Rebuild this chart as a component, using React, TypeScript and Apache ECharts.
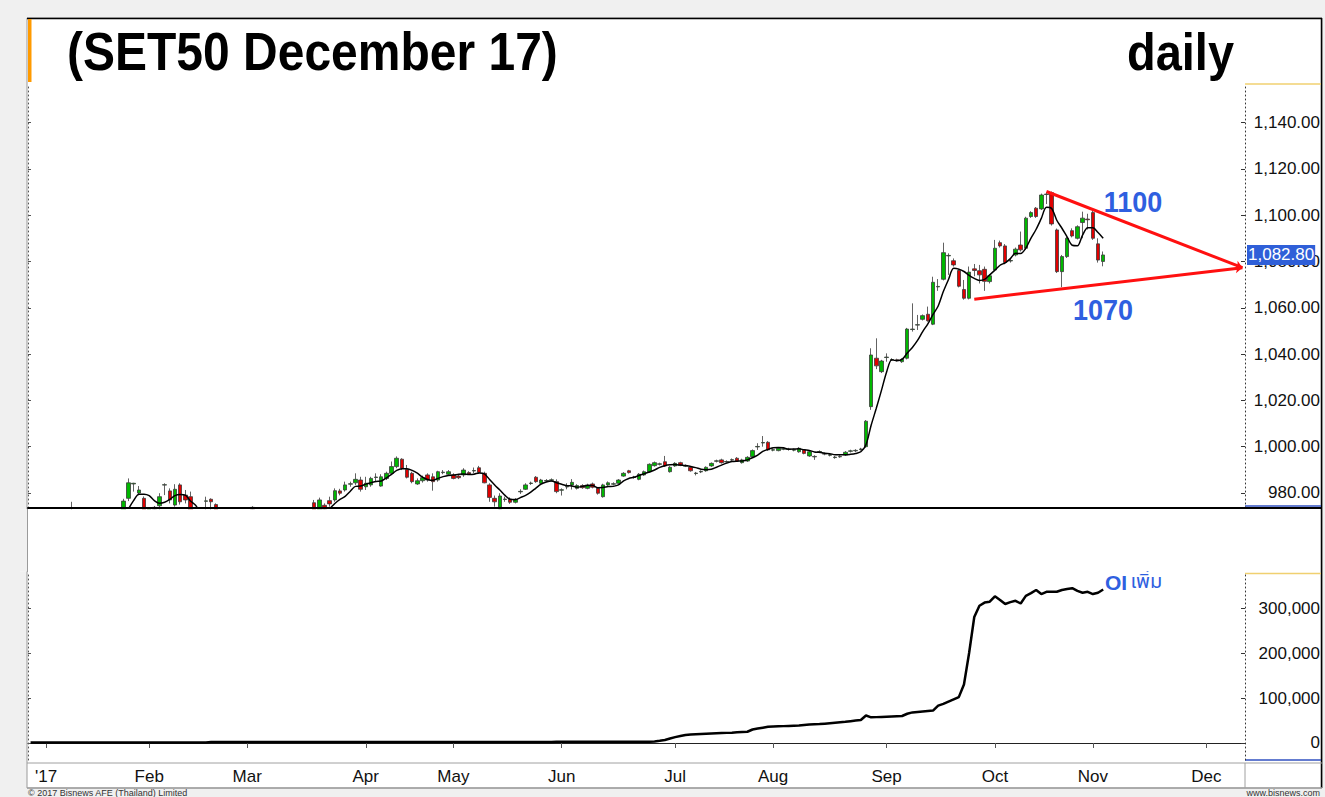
import React, { useEffect, useRef } from "react";
import * as echarts from "echarts";

const FONT = "'Liberation Sans', Arial, Helvetica, sans-serif";

// ---- trading-day categories ----
const DEC16_DAYS = [28, 29, 30];
const JAN_DAYS = [4, 5, 6, 9, 10, 11, 12, 13, 16, 17, 18, 19, 20, 23, 24, 25, 26, 27, 30, 31];
const FEB_DAYS = [1, 2, 3, 6, 7, 8, 9, 10, 14, 15, 16, 17, 20, 21, 22, 23, 24, 27, 28];
const MAR_DAYS = [1, 2, 3, 6, 7, 8, 9, 10, 13, 14, 15, 16, 17, 20, 21, 22, 23, 24, 27, 28, 29, 30, 31];
const APR_DAYS = [3, 4, 5, 7, 10, 11, 12, 17, 18, 19, 20, 21, 24, 25, 26, 27, 28];
const MAY_DAYS = [2, 3, 4, 5, 8, 9, 11, 12, 15, 16, 17, 18, 19, 22, 23, 24, 25, 26, 29, 30, 31];
const JUN_DAYS = [1, 2, 5, 6, 7, 8, 9, 12, 13, 14, 15, 16, 19, 20, 21, 22, 23, 26, 27, 28, 29, 30];
const JUL_DAYS = [3, 4, 5, 6, 7, 11, 12, 13, 14, 17, 18, 19, 20, 21, 24, 25, 26, 27, 31];
const AUG_DAYS = [1, 2, 3, 4, 7, 8, 9, 10, 11, 15, 16, 17, 18, 21, 22, 23, 24, 25, 28, 29, 30, 31];
const SEP_DAYS = [1, 4, 5, 6, 7, 8, 11, 12, 13, 14, 15, 18, 19, 20, 21, 22, 25, 26, 27, 28, 29];
const OCT_DAYS = [2, 3, 4, 5, 6, 9, 10, 11, 12, 16, 17, 18, 19, 20, 24, 25, 27, 30, 31];
const NOV_DAYS = [1, 2, 3, 6, 7, 8, 9, 10, 13, 14, 15, 16, 17, 20, 21, 22, 23, 24, 27, 28, 29, 30];
const DEC_DAYS = [1, 4, 6, 7, 8, 12, 13, 14];
const MONTH_LABELS = ["'17", "Feb", "Mar", "Apr", "May", "Jun", "Jul", "Aug", "Sep", "Oct", "Nov", "Dec"];

// ---- OHLC values [open, close, low, high] ----
const OHLC_DEC16 = [[962, 964, 960, 966], [964, 961, 959, 965], [961, 965, 960, 967]];
const OHLC_JAN = [
  [965, 968, 963, 970], [968, 966, 964, 970], [966, 969, 965, 971], [969, 967, 964, 970],
  [967, 970, 966, 972], [970, 971, 967, 976.2], [971, 968, 966, 972], [968, 965, 963, 969],
  [965, 962, 960, 966], [962, 964, 960, 966], [964, 961, 958, 965], [961, 963, 959, 965],
  [963, 966, 962, 968], [966, 968, 964, 970], [968, 971, 967, 972.5], [971, 976.5, 970, 977.5],
  [977.7, 984.4, 976.5, 986.3], [983.9, 984.2, 980.6, 984.4], [980, 981.3, 979, 983], [977.7, 971, 969, 978.5],
];
const OHLC_FEB = [
  [972, 973.2, 970, 973.9], [973, 973.8, 971, 974.4], [974.5, 978.4, 972, 979.9], [983.4, 983.6, 979.1, 984.2],
  [980.9, 977, 975.5, 982], [974.8, 981.6, 974.1, 983.8], [983.5, 976.2, 975, 984.2], [979.1, 977, 975.5, 981.3],
  [978.4, 971, 969, 980.6], [970, 968, 966, 972], [968, 966, 964, 970], [976.4, 976.6, 972, 978.4],
  [977.3, 976.2, 972.5, 977.7], [975, 971, 969, 975.5], [971, 969, 967, 972], [969, 967, 965, 971],
  [967, 965, 963, 969], [965, 966, 962, 968], [966, 964, 962, 968],
];
const OHLC_MAR = [
  [964, 967, 963, 969], [973.8, 973, 970, 974.3], [970, 968, 966, 971], [968, 966, 964, 970],
  [966, 964, 962, 967], [964, 962, 960, 966], [962, 963, 959, 965], [963, 961, 959, 965],
  [961, 963, 960, 965], [963, 965, 961, 967], [965, 967, 964, 969], [967, 968, 965, 970],
  [968, 970, 966, 972], [975.8, 971, 969, 977], [971, 977, 970, 978], [974.7, 973, 971, 975.5],
  [976.7, 975.3, 974.1, 978.4], [977, 981, 976.2, 982], [980.9, 979.9, 979, 981.8], [981.3, 983.5, 980.6, 984.9],
  [983.8, 984, 982.7, 984.9], [984.4, 985.9, 983.5, 988.5], [985.6, 981.6, 980.6, 987],
];
const OHLC_APR = [
  [982.7, 984.2, 981.3, 987], [983.5, 986.3, 982.7, 987], [986.7, 986.9, 984.9, 988.5], [983, 987, 982.7, 988.1],
  [986.3, 988.5, 985.6, 989.2], [988.5, 991.4, 987.8, 993.6], [991.4, 995, 990.7, 995.8], [994.6, 990.7, 989.9, 995],
  [990.2, 986.8, 986.3, 992.1], [988.5, 984.9, 984.2, 989.2], [983.9, 985.3, 983.5, 986.3], [985.3, 986.6, 984.5, 987.5],
  [987.8, 985.6, 984.9, 988.5], [987, 984.9, 981, 988.5], [985.6, 989.2, 984.9, 989.6], [988.8, 989, 988.1, 989.9],
  [988.1, 989.2, 987.8, 989.9],
];
const OHLC_MAY = [
  [987.8, 986.3, 985.9, 988.5], [987.3, 986.6, 986, 988], [987.8, 989.9, 987, 990.7], [988.8, 988.2, 987.8, 989.4],
  [989.5, 989.7, 988.5, 991], [990.9, 988.9, 988.5, 991.7], [988.5, 984.4, 984.2, 989.2], [983.5, 978.1, 976.2, 984.2],
  [977.7, 976.2, 974.1, 978.9], [973, 978.7, 972, 979.9], [977.2, 977.4, 976.2, 978.4], [977.3, 976, 975.3, 978.1],
  [976, 977.3, 975.5, 977.8], [980.5, 980.7, 979.6, 981.6], [981.6, 983.5, 981.3, 984.2], [984.1, 984.3, 983.5, 984.9],
  [986.8, 984.9, 984.4, 987.3], [984.2, 985.6, 983.8, 986.1], [985.2, 985.4, 984.7, 986], [985.5, 985.7, 985, 986.3],
  [984.9, 980.6, 979.9, 985.9],
];
const OHLC_JUN = [
  [981.2, 981.4, 978.9, 982], [982.6, 982.8, 981.6, 984.2], [983.5, 984.6, 981.5, 986], [982, 983.2, 981.5, 983.8],
  [983.2, 982.3, 981.8, 983.8], [982, 983.5, 981.6, 984], [983.9, 982.5, 982, 984.5], [982, 979.9, 979.3, 982.5],
  [978.4, 983.5, 978, 984], [983.5, 984.4, 983, 985], [983.8, 984, 983.3, 984.6], [984.2, 985.6, 983.9, 986],
  [987.3, 988.5, 987, 989], [989.6, 988.8, 988.4, 990], [986.7, 986.9, 986.2, 987.4], [985.9, 988.1, 985.5, 988.6],
  [987.8, 989.2, 987.4, 989.7], [989.2, 992.4, 988.8, 992.8], [991.8, 993.1, 991.4, 993.6], [992.4, 992.6, 991.9, 993.1],
  [993.5, 991.7, 991.3, 996], [989.2, 991.1, 988.8, 991.6],
];
const OHLC_JUL = [
  [991.7, 992.8, 991.3, 993.3], [993.1, 992, 991.6, 993.5], [991.6, 991.8, 991.2, 992.3], [991.1, 989.6, 989.2, 991.5],
  [988.4, 988.6, 987.6, 989.1], [989.1, 989.3, 988.6, 989.8], [989.6, 991.1, 989.2, 991.5], [991.7, 992.8, 991.3, 993.2],
  [993.7, 993.9, 993.2, 994.4], [994.3, 993.1, 992.7, 994.8], [993.4, 993.6, 993, 994.1], [994.2, 994.4, 993.8, 994.9],
  [995, 993.8, 993.4, 995.5], [993.1, 994.3, 992.7, 994.8], [993.8, 995.4, 993.4, 995.9], [995.7, 998.3, 995.3, 998.8],
  [999.9, 1000.1, 998.6, 1001.5], [1001.6, 1001.8, 1000, 1004.6], [1001.9, 998.6, 998.2, 1002.4],
];
const OHLC_AUG = [
  [998.5, 998.7, 998, 999.3], [998.3, 999.3, 998, 999.8], [998.9, 999.1, 998.5, 999.6], [998.8, 999, 998.3, 999.5],
  [998.5, 998.7, 998, 999.2], [997.8, 999.3, 997.4, 999.8], [998.6, 997.1, 996.7, 999], [996, 997.8, 995.6, 998.3],
  [995.6, 995.8, 994.3, 996.3], [997.7, 997.9, 997.2, 998.4], [996.8, 997, 996.3, 997.5], [996.3, 996.5, 995.8, 997],
  [995.3, 995.5, 994.8, 996], [995.6, 995.8, 995.2, 996.3], [996.4, 997.6, 996, 998.1], [998, 998.2, 997.5, 998.7],
  [998.2, 998.4, 997.7, 998.9], [998.8, 999, 998.3, 999.5], [1000, 1011, 999.5, 1011.5], [1017.3, 1039.6, 1015.9, 1042.5],
  [1038.2, 1034.9, 1033.5, 1046.8], [1032.4, 1037, 1031.8, 1037.5],
];
const OHLC_SEP = [
  [1038.5, 1038.7, 1036.7, 1040.3], [1037.4, 1037.6, 1037, 1038.2], [1037.5, 1037.4, 1036.8, 1038], [1036.7, 1037.7, 1036.2, 1038.2],
  [1038.2, 1050.8, 1037.7, 1051.3], [1050.6, 1050.8, 1049.7, 1061.9], [1052.5, 1052.7, 1050.4, 1056.9], [1055, 1056.6, 1054.5, 1057.1],
  [1057.2, 1054.4, 1054, 1060.5], [1052.9, 1071, 1052.5, 1073.4], [1069, 1069.2, 1067.3, 1072.4], [1072.3, 1083.8, 1071.8, 1088.1],
  [1082.4, 1082.6, 1074.2, 1083.5], [1080.3, 1078.5, 1077.8, 1081.3], [1076.1, 1069.3, 1068.8, 1076.8], [1067.9, 1064.1, 1063.5, 1072],
  [1064.1, 1075.4, 1063.6, 1077.8], [1076.8, 1076.1, 1073.6, 1078.9], [1076, 1074.2, 1070.5, 1078.5], [1076.6, 1071.4, 1067.3, 1077.8],
  [1071.3, 1073.8, 1070.5, 1074.5],
];
const OHLC_OCT = [
  [1076.3, 1085.7, 1075.8, 1089.3], [1088.1, 1086.7, 1086, 1089], [1086.7, 1079.5, 1078.8, 1087.5], [1080.2, 1080.4, 1079.5, 1081.2],
  [1082.8, 1085.3, 1082.2, 1086], [1087.1, 1085, 1084.3, 1092.9], [1085.7, 1098.7, 1085, 1099.3], [1099.4, 1101.1, 1098.8, 1101.7],
  [1103, 1099.4, 1098.8, 1103.5], [1102.7, 1108.7, 1102.2, 1109.3], [1108.9, 1109.1, 1104.8, 1110], [1109.7, 1096.2, 1095.5, 1110.2],
  [1093.6, 1075.6, 1075, 1094.2], [1075.6, 1082.1, 1068.9, 1082.8], [1082.1, 1090, 1081.5, 1090.6], [1093.3, 1091, 1090.4, 1094.3],
  [1090, 1095, 1089.5, 1095.6], [1096.8, 1098.7, 1090, 1101.5], [1098.3, 1098, 1093.8, 1100.6],
];
const OHLC_NOV = [[1101.1, 1090, 1089.3, 1102.2], [1087.6, 1080.6, 1079.5, 1090], [1080, 1082.8, 1077.9, 1084.3]];

// ---- open interest ----
const OI_DEC16 = [1000, 1000, 1000];
const OI_JAN = [1000, 1000, 1000, 1000, 1000, 1000, 1000, 1000, 1000, 1000, 1000, 1000, 1000, 1000, 1000, 1000, 1000, 1000, 1000, 1000];
const OI_FEB = [1000, 1000, 1000, 1000, 1000, 1000, 1000, 1000, 1000, 1000, 1000, 1000, 2000, 2000, 2000, 2000, 2000, 2000, 2000];
const OI_MAR = [2000, 2000, 2000, 2000, 2000, 2000, 2000, 2000, 2000, 2000, 2000, 2000, 2000, 2000, 2000, 2000, 2000, 2000, 2000, 2000, 2000, 2000, 2000];
const OI_APR = [2000, 2000, 2000, 2000, 2000, 2000, 2000, 2000, 2000, 2000, 2000, 2000, 2000, 2000, 2000, 2000, 2000];
const OI_MAY = [2000, 2000, 2000, 2000, 2000, 2000, 2000, 2000, 2000, 2000, 2000, 2000, 2000, 2000, 2000, 2000, 2000, 2000, 2000, 2000, 3000];
const OI_JUN = [3000, 3000, 3000, 3000, 3000, 3000, 3000, 3000, 3000, 3000, 3000, 3000, 3000, 3000, 3000, 3000, 3000, 3000, 3500, 5000, 6700, 10000];
const OI_JUL = [13000, 15500, 17800, 18800, 19500, 20000, 20500, 21000, 21500, 22000, 22500, 23000, 23800, 24500, 25000, 30000, 32000, 34000, 36000];
const OI_AUG = [36500, 37000, 37500, 38000, 38500, 39000, 40000, 41000, 41500, 42000, 43000, 44000, 45000, 46000, 47000, 48500, 50000, 51000, 61000, 57000, 57500, 58000];
const OI_SEP = [58500, 59000, 59500, 60000, 65000, 68000, 69000, 70000, 71000, 72000, 83000, 87000, 92000, 97000, 102000, 130000, 200000, 280000, 305000, 312000, 314000];
const OI_OCT = [326000, 318000, 309000, 313000, 316000, 310000, 327000, 333000, 340000, 331000, 336000, 336000, 336000, 340000, 342000, 344000, 338000, 334000, 336000];
const OI_NOV = [331000, 334000, 341000];

const PRICE_TICKS = [980, 1000, 1020, 1040, 1060, 1080, 1100, 1120, 1140];
const OI_TICKS = [0, 100000, 200000, 300000];
const LAST_PRICE = 1082.8;
const UPPER_TREND = [[197, 1110.2], [235, 1077.3]];
const LOWER_TREND = [[183, 1063.7], [235, 1077.3]];

const pad = (n: number) => (n < 10 ? "0" + n : "" + n);

function buildOption() {
  const dates: string[] = [];
  DEC16_DAYS.forEach((d) => dates.push(`2016-12-${pad(d)}`));
  [JAN_DAYS, FEB_DAYS, MAR_DAYS, APR_DAYS, MAY_DAYS, JUN_DAYS, JUL_DAYS, AUG_DAYS, SEP_DAYS, OCT_DAYS, NOV_DAYS, DEC_DAYS].forEach(
    (days, m) => days.forEach((d) => dates.push(`2017-${pad(m + 1)}-${pad(d)}`))
  );
  const monthStart = new Set<number>();
  for (let i = 1; i < dates.length; i++) {
    if (dates[i].slice(0, 7) !== dates[i - 1].slice(0, 7)) monthStart.add(i);
  }
  const isStart = (idx: number) => monthStart.has(idx);
  const labelFor = (v: string) => MONTH_LABELS[parseInt(v.slice(5, 7), 10) - 1];

  const candles = [
    ...OHLC_DEC16, ...OHLC_JAN, ...OHLC_FEB, ...OHLC_MAR, ...OHLC_APR, ...OHLC_MAY,
    ...OHLC_JUN, ...OHLC_JUL, ...OHLC_AUG, ...OHLC_SEP, ...OHLC_OCT, ...OHLC_NOV,
  ];
  const closes = candles.map((c) => c[1]);
  const ma5 = closes.map((_, i) =>
    i < 4 ? "-" : +(closes.slice(i - 4, i + 1).reduce((a, b) => a + b, 0) / 5).toFixed(2)
  );
  const oi = [
    ...OI_DEC16, ...OI_JAN, ...OI_FEB, ...OI_MAR, ...OI_APR, ...OI_MAY,
    ...OI_JUN, ...OI_JUL, ...OI_AUG, ...OI_SEP, ...OI_OCT, ...OI_NOV,
  ];

  const priceFmt = (v: number) =>
    v.toLocaleString("en-US", { minimumFractionDigits: 2, maximumFractionDigits: 2 });
  const oiFmt = (v: number) => v.toLocaleString("en-US");

  const axisLabelRight = {
    align: "right",
    margin: 75,
    fontSize: 17,
    color: "#111",
    fontFamily: FONT,
  };

  return {
    animation: false,
    backgroundColor: "#f0f0f0",
    textStyle: { fontFamily: FONT },
    grid: [
      { left: 28, right: 80, top: 85, height: 423 },
      { left: 28, right: 80, top: 573, height: 187 },
    ],
    xAxis: [
      {
        type: "category",
        gridIndex: 0,
        data: dates,
        boundaryGap: true,
        axisLine: { lineStyle: { color: "#000", width: 2 } },
        axisTick: { show: false },
        axisLabel: { show: false },
        splitLine: { show: false },
        z: 20,
      },
      {
        type: "category",
        gridIndex: 1,
        data: dates,
        boundaryGap: true,
        axisLine: { lineStyle: { color: "#222", width: 1 } },
        axisTick: {
          show: true,
          alignWithLabel: true,
          interval: (idx: number) => isStart(idx),
          length: 5,
          lineStyle: { color: "#555" },
        },
        axisLabel: {
          interval: (idx: number) => isStart(idx),
          formatter: (v: string) => labelFor(v),
          fontSize: 17,
          color: "#111",
          margin: 8,
          fontFamily: FONT,
        },
        splitLine: { show: false },
      },
    ],
    yAxis: [
      {
        type: "value",
        gridIndex: 0,
        position: "right",
        min: 973.52,
        max: 1156.2,
        axisLine: { show: true, lineStyle: { color: "#333", type: [1, 3] } },
        axisTick: { show: true, inside: true, length: 4, customValues: PRICE_TICKS, lineStyle: { color: "#333" } },
        axisLabel: { ...axisLabelRight, customValues: PRICE_TICKS, formatter: priceFmt },
        splitLine: { show: false },
      },
      {
        type: "value",
        gridIndex: 0,
        position: "left",
        min: 973.52,
        max: 1156.2,
        axisLine: { show: true, lineStyle: { color: "#555", type: [1, 3] } },
        axisTick: { show: true, inside: true, length: 3, customValues: PRICE_TICKS, lineStyle: { color: "#555" } },
        axisLabel: { show: false },
        splitLine: { show: false },
      },
      {
        type: "value",
        gridIndex: 1,
        position: "right",
        min: -37778,
        max: 377778,
        axisLine: { show: true, lineStyle: { color: "#333", type: [1, 3] } },
        axisTick: { show: true, inside: true, length: 4, customValues: OI_TICKS, lineStyle: { color: "#333" } },
        axisLabel: { ...axisLabelRight, customValues: OI_TICKS, formatter: oiFmt },
        splitLine: { show: false },
      },
      {
        type: "value",
        gridIndex: 1,
        position: "left",
        min: -37778,
        max: 377778,
        axisLine: { show: true, lineStyle: { color: "#555", type: [1, 3] } },
        axisTick: { show: true, inside: true, length: 3, customValues: OI_TICKS, lineStyle: { color: "#555" } },
        axisLabel: { show: false },
        splitLine: { show: false },
      },
    ],
    series: [
      {
        type: "candlestick",
        name: "SET50 Z17",
        xAxisIndex: 0,
        yAxisIndex: 0,
        data: candles,
        barWidth: 4,
        clip: true,
        itemStyle: {
          color: "#00b800",
          color0: "#e00000",
          borderColor: "#3a3a3a",
          borderColor0: "#3a3a3a",
          borderWidth: 0.8,
        },
        markLine: {
          silent: true,
          z: 10,
          symbol: ["none", "arrow"],
          symbolSize: 7,
          lineStyle: { color: "#ff1010", width: 3, type: "solid" },
          label: { show: false },
          data: [
            [{ coord: UPPER_TREND[0] }, { coord: UPPER_TREND[1] }],
            [{ coord: LOWER_TREND[0] }, { coord: LOWER_TREND[1] }],
            {
              yAxis: LAST_PRICE,
              symbol: "none",
              lineStyle: { color: "rgba(0,0,0,0)", width: 0 },
              label: {
                show: true,
                position: "end",
                distance: 2,
                formatter: priceFmt(LAST_PRICE),
                color: "#ffffff",
                backgroundColor: "#2f5fd8",
                padding: [2, 1, 1, 1],
                fontSize: 17,
                fontFamily: FONT,
              },
            },
          ],
        },
      },
      {
        type: "line",
        name: "MA",
        xAxisIndex: 0,
        yAxisIndex: 0,
        data: ma5,
        symbol: "none",
        smooth: 0.3,
        clip: true,
        lineStyle: { color: "#000", width: 1.5 },
      },
      {
        type: "line",
        name: "OI",
        xAxisIndex: 1,
        yAxisIndex: 2,
        data: oi,
        symbol: "none",
        lineStyle: { color: "#000", width: 2.5 },
      },
    ],
    graphic: [
      {
        type: "rect",
        z: -100,
        shape: { x: 27, y: 18, width: 1295, height: 770 },
        style: { fill: "#ffffff", stroke: "#9a9a9a", lineWidth: 1 },
      },
      // mask under the price panel (hides candles below the axis floor)
      {
        type: "rect",
        z: 50,
        shape: { x: 20, y: 509.2, width: 1225, height: 62 },
        style: { fill: "#ffffff" },
      },
      { type: "line", z: 51, shape: { x1: 27.5, y1: 509, x2: 27.5, y2: 572 }, style: { stroke: "#9a9a9a", lineWidth: 1 } },
      { type: "rect", z: 51, shape: { x: 0, y: 509.2, width: 27, height: 62 }, style: { fill: "#f0f0f0" } },
      { type: "line", z: -50, shape: { x1: 27, y1: 18.5, x2: 1322, y2: 18.5 }, style: { stroke: "#000", lineWidth: 1.5 } },
      { type: "line", z: -50, shape: { x1: 1321.5, y1: 18, x2: 1321.5, y2: 788 }, style: { stroke: "#000", lineWidth: 1.5 } },
      { type: "rect", shape: { x: 28, y: 19, width: 3.5, height: 63 }, style: { fill: "#ff9a00" } },
      // axis column borders
      { type: "line", shape: { x1: 1245, y1: 84, x2: 1321, y2: 84 }, style: { stroke: "#f0d070", lineWidth: 1.5 } },
      { type: "line", shape: { x1: 1245, y1: 506, x2: 1321, y2: 506 }, style: { stroke: "#3050c0", lineWidth: 1.5 } },
      { type: "line", z: 52, shape: { x1: 1245, y1: 508, x2: 1322, y2: 508 }, style: { stroke: "#000", lineWidth: 2 } },
      { type: "line", shape: { x1: 1245, y1: 573.5, x2: 1321, y2: 573.5 }, style: { stroke: "#f0d070", lineWidth: 1.5 } },
      { type: "line", shape: { x1: 1245, y1: 760, x2: 1321, y2: 760 }, style: { stroke: "#3050c0", lineWidth: 1.5 } },
      // x axis row separators
      { type: "line", shape: { x1: 27, y1: 763, x2: 1322, y2: 763 }, style: { stroke: "#a0a0a0", lineWidth: 1 } },
      { type: "line", shape: { x1: 27, y1: 788, x2: 1322, y2: 788 }, style: { stroke: "#a0a0a0", lineWidth: 1.5 } },
      { type: "line", shape: { x1: 1245, y1: 763, x2: 1245, y2: 788 }, style: { stroke: "#a0a0a0", lineWidth: 1 } },
      // titles
      {
        type: "text",
        x: 67,
        y: 52,
        scaleY: 1.12,
        style: {
          text: "(SET50 December 17)",
          font: `bold 48px ${FONT}`,
          fill: "#000",
          textAlign: "left",
          textVerticalAlign: "middle",
        },
      },
      {
        type: "text",
        x: 1127,
        y: 52,
        scaleY: 1.12,
        style: {
          text: "daily",
          font: `bold 47px ${FONT}`,
          fill: "#000",
          textAlign: "left",
          textVerticalAlign: "middle",
        },
      },
      {
        type: "text",
        x: 1133,
        y: 201,
        scaleY: 1.12,
        style: { text: "1100", font: `bold 27px ${FONT}`, fill: "#2f5fe0", textAlign: "center", textVerticalAlign: "middle" },
      },
      {
        type: "text",
        x: 1103,
        y: 309,
        scaleY: 1.12,
        style: { text: "1070", font: `bold 27px ${FONT}`, fill: "#2f5fe0", textAlign: "center", textVerticalAlign: "middle" },
      },
      {
        type: "text",
        x: 1105,
        y: 582,
        style: {
          text: "{a|OI} {b|เพิ่ม}",
          textAlign: "left",
          textVerticalAlign: "middle",
          rich: {
            a: { fontSize: 21, fontWeight: "bold", fill: "#2f5fe0", color: "#2f5fe0", fontFamily: FONT },
            b: { fontSize: 20, fill: "#2f5fe0", color: "#2f5fe0", fontFamily: `'Noto Sans Thai', Tahoma, ${FONT}` },
          },
        },
      },
      {
        type: "text",
        x: 28,
        y: 793,
        style: { text: "© 2017 Bisnews AFE (Thailand) Limited", font: `9px ${FONT}`, fill: "#333", textAlign: "left", textVerticalAlign: "middle" },
      },
      {
        type: "text",
        x: 1320,
        y: 793,
        style: { text: "www.bisnews.com", font: `9px ${FONT}`, fill: "#333", textAlign: "right", textVerticalAlign: "middle" },
      },
    ],
  };
}

export default function App() {
  const ref = useRef<HTMLDivElement>(null);
  useEffect(() => {
    if (!ref.current) return;
    const chart = echarts.init(ref.current, null, { renderer: "svg" });
    chart.setOption(buildOption() as any);
    return () => chart.dispose();
  }, []);
  return (
    <div
      ref={ref}
      style={{ position: "absolute", left: 0, top: 0, width: 1325, height: 797 }}
    />
  );
}
